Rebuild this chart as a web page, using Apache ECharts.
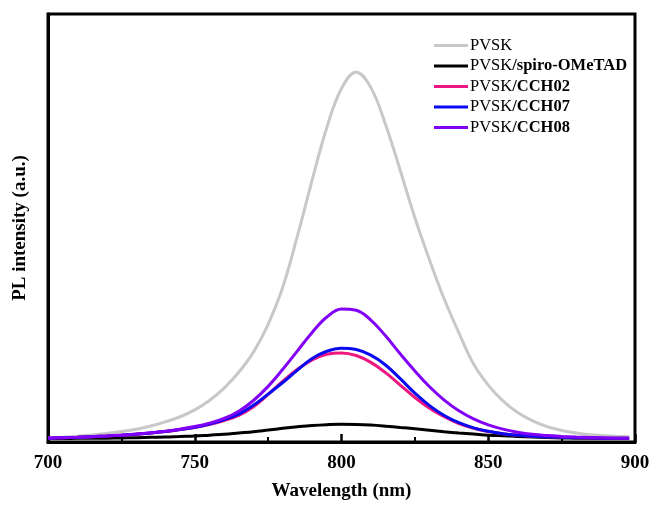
<!DOCTYPE html>
<html>
<head>
<meta charset="utf-8">
<script src="https://cdn.jsdelivr.net/npm/echarts@6/dist/echarts.min.js"></script>
<style>
html,body{margin:0;padding:0;background:#fff;}
#c{width:653px;height:506px;}
</style>
</head>
<body>
<div id="c"></div>
<script>
const wavelengths = [700,705,710,715,720,725,730,735,740,745,750,755,760,765,770,775,780,785,790,795,800,805,810,815,820,825,830,835,840,845,850,855,860,865,870,875,880,885,890,895,898];
const pvsk =   [9,11,13.5,16.5,20,24.5,30,37.5,47,59,75,97,126,163,210,275,362,482,612,735,826,864,828,742,635,524,425,334,255,182,133,96,69,50,36,27,21,17,14.5,13,12];
const spiro =  [8,8,8.5,8.5,9,9.5,10,11,11.5,13,14,16,18,21,24,28,32,35.5,38.5,40.5,41.5,41,39.5,37,34,31,27.5,24,21,18.5,16,14.5,13,11.5,10.5,9.5,9,8.5,8,8,8];
const cch02 =  [9,10,11,12.5,14,16,18,21,24.5,29,34,41,50,62,82,111,142,170,192,205,208,202,186,162,133,104,79,59,43,32,24.5,19.5,16,13.5,12,11,10,9.5,9,9,9];
const cch07 =  [9,10,11,12.5,14,16,18,21,24.5,29,34.5,42,52,65,86,112,139,168,195,212,219,216,203,180,148,114,85,62,45,33,25,19.5,16,13.5,12,11,10,9.5,9,9,9];
const cch08 =  [9,10,11,12.5,14,16,18.5,21.5,25,30,36,44,55,72,97,130,170,213,256,292,311,308,285,248,206,166,129,98,73,54,40,30,23,18,15,13,11.5,10.5,9.5,9,9];
const seriesNames = ['PVSK','PVSK/spiro-OMeTAD','PVSK/CCH02','PVSK/CCH07','PVSK/CCH08'];
const seriesColors = ['#c8c8c8','#000000','#ee1681','#0a0af0','#8200f5'];
const seriesValues = [pvsk, spiro, cch02, cch07, cch08];
const xTicks = [700,750,800,850,900];

const chart = echarts.init(document.getElementById('c'), null, {renderer:'canvas'});
const font = '"Liberation Serif","Times New Roman",serif';
const series = seriesNames.map((n,i)=>({
  name:n, type:'line', symbol:'none', smooth:0.4,
  data: wavelengths.map((w,j)=>[w, seriesValues[i][j]]),
  lineStyle:{color:seriesColors[i], width:3},
  itemStyle:{color:seriesColors[i]},
  z: 2+i
}));
chart.setOption({
  animation:false,
  backgroundColor:'#fff',
  grid:{left:48, right:18, top:14, bottom:59, show:true, borderColor:'#000', borderWidth:3},
  legend:{
    orient:'vertical', left:429, top:32, itemWidth:34, itemHeight:3, itemGap:3.5,
    icon:'rect',
    data: seriesNames,
    formatter: function(name){
      const rest = name.slice(4);
      return '{a|PVSK}' + (rest ? '{b|' + rest + '}' : '');
    },
    textStyle:{
      fontFamily:font, fontSize:16.5, color:'#000', padding:[0,0,0,-3],
      rich:{a:{fontFamily:font, fontSize:16.5, color:'#000'}, b:{fontFamily:font, fontSize:16.5, fontWeight:'bold', color:'#000'}}
    }
  },
  xAxis:{
    type:'value', min:700, max:900, interval:50,
    name:'Wavelength (nm)', nameLocation:'middle', nameGap:40,
    nameTextStyle:{fontFamily:font, fontSize:19, fontWeight:'bold', color:'#000'},
    axisLine:{lineStyle:{color:'#000', width:3}},
    axisTick:{inside:true, length:8, lineStyle:{color:'#000', width:2.5}},
    minorTick:{show:true, splitNumber:2, length:5, lineStyle:{color:'#000', width:2}},
    axisLabel:{fontFamily:font, fontSize:19, fontWeight:'bold', color:'#000', margin:12,
      formatter: v => xTicks.includes(v) ? String(v) : ''},
    splitLine:{show:false}
  },
  yAxis:{
    type:'value', min:0, max:1000,
    name:'PL intensity (a.u.)', nameLocation:'middle', nameGap:18,
    nameTextStyle:{fontFamily:font, fontSize:19, fontWeight:'bold', color:'#000'},
    axisLine:{show:true, lineStyle:{color:'#000', width:3}},
    axisTick:{show:false}, axisLabel:{show:false}, splitLine:{show:false}
  },
  series: series
});
</script>
</body>
</html>
